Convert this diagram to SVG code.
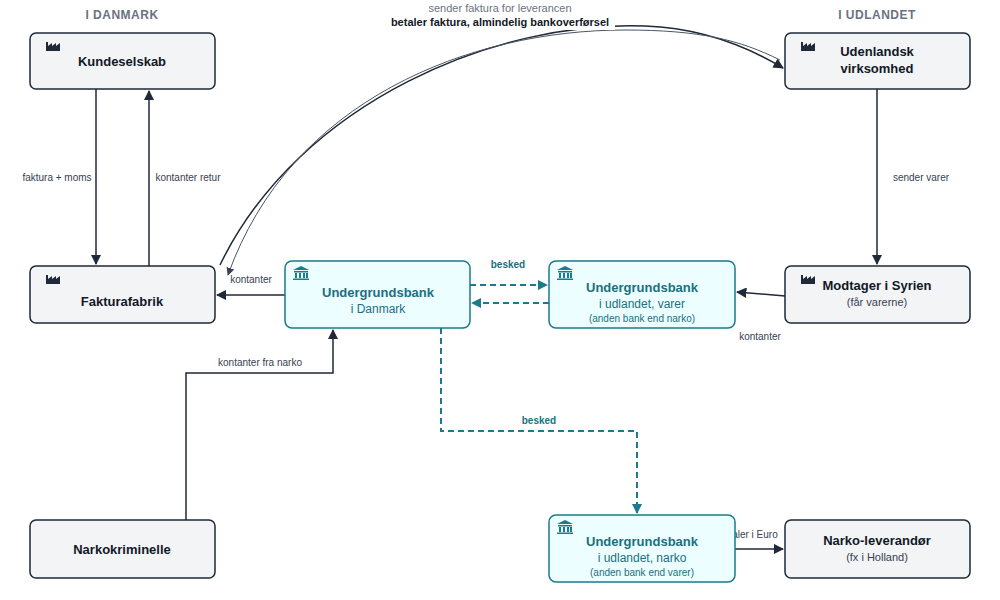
<svg xmlns="http://www.w3.org/2000/svg" width="1000" height="600" viewBox="0 0 1000 600">
<style>
text{font-family:"Liberation Sans",Arial,sans-serif}
.n rect.b{fill:#f3f4f6;stroke:#1f2937;stroke-width:1.5}
.k rect.b{fill:#ecfeff;stroke:#1b7a8c;stroke-width:1.5}
.t{font-size:13px;font-weight:bold;fill:#111827;text-anchor:middle}
.s{font-size:11px;fill:#374151;text-anchor:middle}
.kt{font-size:13px;font-weight:bold;fill:#1b6f80;text-anchor:middle}
.ks{font-size:12px;fill:#1b6f80;text-anchor:middle}
.kx{font-size:10px;fill:#1b6f80;text-anchor:middle}
.l{font-size:10px;fill:#374151;text-anchor:middle}
.lb{font-size:10px;font-weight:bold;fill:#1b6f80;text-anchor:middle}
.h{font-size:12px;font-weight:bold;fill:#6b7280;text-anchor:middle;letter-spacing:0.5px}
.c{fill:none;stroke:#1f2937;stroke-width:1.5}
.d{fill:none;stroke:#1b7a8c;stroke-width:2;stroke-dasharray:6,4}
.fi{fill:#1f2937}
.bi{fill:#1b7a8c}
</style>
<defs>
<marker id="a" viewBox="0 0 10 10" refX="9" refY="5" markerWidth="7" markerHeight="7" orient="auto"><path d="M0,0L10,5L0,10z" fill="#1f2937"/></marker>
<marker id="ab" viewBox="0 0 10 10" refX="9" refY="5" markerWidth="5" markerHeight="5" orient="auto"><path d="M0,0L10,5L0,10z" fill="#1b7a8c"/></marker>
<marker id="ag" viewBox="0 0 10 10" refX="9" refY="5" markerWidth="8" markerHeight="8" orient="auto"><path d="M0,0L10,5L0,10z" fill="#374151"/></marker>
<g id="fac"><path class="fi" d="M0,12V3h2v4l4-3v3l4-3v3l4-3v8z"/></g>
<g id="bank"><path class="bi" d="M0,4L8,0L16,4z M1,5h14v1.5H1z M2,7h2v5H2z M6,7h2v5H6z M10,7h2v5h-2z M13,7h2v5h-2z M0,12.5h16V14H0z"/></g>
</defs>
<text class="h" x="122" y="19">I DANMARK</text>
<text class="h" x="877" y="19">I UDLANDET</text>
<g id="connectors">
<path class="c" d="M220,265 C300,100 500,20 645,26 C700,28 745,45 783,68" stroke-width="2.2" marker-end="url(#a)"/>
<path d="M780,60 C740,40 700,30 625,30 C470,30 290,100 228,275" fill="none" stroke="#4b5563" stroke-width="1" marker-end="url(#ag)"/>
<path class="c" d="M96,89V264" marker-end="url(#a)"/>
<path class="c" d="M149,266V91" marker-end="url(#a)"/>
<path class="c" d="M877,89V264" marker-end="url(#a)"/>
<path class="c" d="M785,296L737,292" marker-end="url(#a)"/>
<path class="c" d="M285,295H217" marker-end="url(#a)"/>
<path class="c" d="M186,520V373H333V330" marker-end="url(#a)"/>
<path class="c" d="M735,549H783" marker-end="url(#a)"/>
<path class="d" d="M470,285H547" marker-end="url(#ab)"/>
<path class="d" d="M549,303H472" marker-end="url(#ab)"/>
<path class="d" d="M441,328V431H637V513" marker-end="url(#ab)"/>
<rect x="390" y="2" width="225" height="28" fill="#fff"/>
<text x="500" y="12" style="font-size:11px;fill:#6b7280;text-anchor:middle">sender faktura for leverancen</text>
<text x="500" y="26" style="font-size:11px;font-weight:bold;fill:#111827;text-anchor:middle">betaler faktura, almindelig bankoverførsel</text>
<text class="l" x="57" y="181">faktura + moms</text>
<text class="l" x="188" y="181">kontanter retur</text>
<text class="l" x="921" y="181">sender varer</text>
<text class="l" x="251" y="283">kontanter</text>
<text class="l" x="760" y="340">kontanter</text>
<text class="l" x="260" y="366">kontanter fra narko</text>
<text class="l" x="748" y="538">betaler i Euro</text>
<text class="lb" x="508" y="268">besked</text>
<text class="lb" x="539" y="424">besked</text>
</g>
<g id="kundeselskab" class="n"><rect class="b" x="30" y="33" width="185" height="56" rx="6"/><use href="#fac" x="46" y="39"/><text class="t" x="122" y="66">Kundeselskab</text></g>
<g id="fakturafabrik" class="n"><rect class="b" x="30" y="266" width="185" height="57" rx="6"/><use href="#fac" x="46" y="272"/><text class="t" x="122" y="306">Fakturafabrik</text></g>
<g id="narkokriminelle" class="n"><rect class="b" x="30" y="520" width="185" height="58" rx="6"/><text class="t" x="122" y="554">Narkokriminelle</text></g>
<g id="udenlandsk" class="n"><rect class="b" x="785" y="33" width="185" height="56" rx="6"/><use href="#fac" x="801" y="39"/><text class="t" x="877" y="56">Udenlandsk</text><text class="t" x="877" y="73">virksomhed</text></g>
<g id="modtager" class="n"><rect class="b" x="785" y="266" width="185" height="57" rx="6"/><use href="#fac" x="801" y="272"/><text class="t" x="877" y="290">Modtager i Syrien</text><text class="s" x="877" y="306">(får varerne)</text></g>
<g id="narkoleverandor" class="n"><rect class="b" x="785" y="520" width="185" height="58" rx="6"/><text class="t" x="877" y="545">Narko-leverandør</text><text class="s" x="877" y="561">(fx i Holland)</text></g>
<g id="bankdk" class="k"><rect class="b" x="285" y="261" width="185" height="67" rx="7"/><use href="#bank" x="293" y="266"/><text class="kt" x="378" y="297">Undergrundsbank</text><text class="ks" x="378" y="313">i Danmark</text></g>
<g id="bankvarer" class="k"><rect class="b" x="549" y="261" width="186" height="67" rx="7"/><use href="#bank" x="557" y="266"/><text class="kt" x="642" y="292">Undergrundsbank</text><text class="ks" x="642" y="308">i udlandet, varer</text><text class="kx" x="642" y="322">(anden bank end narko)</text></g>
<g id="banknarko" class="k"><rect class="b" x="549" y="515" width="186" height="67" rx="7"/><use href="#bank" x="557" y="520"/><text class="kt" x="642" y="546">Undergrundsbank</text><text class="ks" x="642" y="562">i udlandet, narko</text><text class="kx" x="642" y="576">(anden bank end varer)</text></g>
</svg>
